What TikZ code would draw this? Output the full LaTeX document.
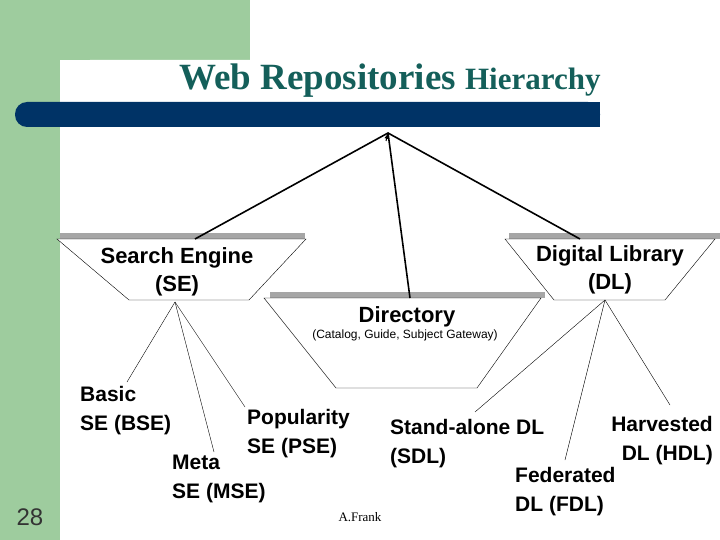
\documentclass[tikz,border=0pt]{standalone}
\usepackage{fontspec}
\setmainfont{Liberation Serif}
\newfontfamily\arialf{Liberation Sans}
\definecolor{grn}{RGB}{158,204,158}
\definecolor{navy}{RGB}{0,51,102}
\definecolor{teal2}{RGB}{20,95,90}
\begin{document}
\begin{tikzpicture}[x=1pt,y=-1pt,
  band/.style={fill=gray!70,draw=none},
  trap/.style={draw=black,line width=0.4pt,fill=white},
  big/.style={font=\arialf\bfseries\fontsize{22}{28}\selectfont,align=center,inner sep=0},
  leaf/.style={font=\arialf\bfseries\fontsize{21}{29}\selectfont,align=left,inner sep=0,anchor=north west},
  thick line/.style={line width=1.6pt},
  thin line/.style={line width=0.4pt}]
\useasboundingbox (0,0) rectangle (720,540);
\fill[grn] (0,0) rectangle (250,60);
\fill[grn] (0,0) rectangle (60,540);
\fill[white,rounded corners=30] (60,60) rectangle (300,560);
\fill[white] (90,60) rectangle (300,560);
\fill[white] (60,100) rectangle (300,560);
\fill[navy,rounded corners=12] (15,102) rectangle (600,127);
\fill[navy] (40,102) rectangle (600,127);
\node[text=teal2,font=\bfseries,inner sep=0,anchor=base] (title) at (390,90)
  {\fontsize{37}{40}\selectfont Web Repositories \fontsize{31}{36}\selectfont Hierarchy};
% trapezoids
\fill[band] (60,233) rectangle (305,239);
\draw[trap] (57,239) -- (306,239) -- (249,300) -- (129,300) -- cycle;
\fill[band] (270,292) rectangle (545,298);
\draw[trap] (264,298) -- (541,298) -- (477,388) -- (336,388) -- cycle;
\fill[band] (509,233) rectangle (720,239);
\draw[trap] (505,239) -- (715,239) -- (665,300) -- (554,300) -- cycle;
\node[big] (se) at (177,272) {Search Engine\\(SE)};
\node[big] (dl) at (610,270) {Digital Library\\(DL)};
\node[big] (dir) at (407,317) {Directory};
\node[font=\arialf\fontsize{12}{14}\selectfont,inner sep=0] (dirsub) at (405,335) {(Catalog, Guide, Subject Gateway)};
\coordinate (apex) at (388,133);
\coordinate (seT) at (195,239);
\coordinate (dirT) at (410,298);
\coordinate (dlT) at (580,239);
\draw[thick line] (seT) -- (apex) -- (dlT);
\draw[thick line] (apex) -- (dirT);
\draw[-latex,line width=1pt] (386,141) -- (apex);
\coordinate (seB) at (175,302);
\coordinate (dlB) at (605,300);
\node[leaf] (bse) at (80,386) {Basic\\SE (BSE)};
\node[leaf] (pse) at (247,409) {Popularity\\SE (PSE)};
\node[leaf] (mse) at (172,455) {Meta\\SE (MSE)};
\node[leaf] (sdl) at (390,419) {Stand-alone DL\\(SDL)};
\node[leaf] (fdl) at (515,467) {Federated\\DL (FDL)};
\node[leaf,align=right,anchor=north east] (hdl) at (713,416) {Harvested\\DL (HDL)};
\draw[thin line] (seB) -- (127,382);
\draw[thin line] (seB) -- (214,452);
\draw[thin line] (seB) -- (245,407);
\draw[thin line] (dlB) -- (475,412);
\draw[thin line] (dlB) -- (565,460);
\draw[thin line] (dlB) -- (670,405);
\node[font=\fontsize{13}{15}\selectfont,inner sep=0] (auth) at (360,517) {A.Frank};
\node[font=\arialf\fontsize{24}{26}\selectfont,text=black!80,inner sep=0] (num) at (30,517) {28};
\end{tikzpicture}
\end{document}
